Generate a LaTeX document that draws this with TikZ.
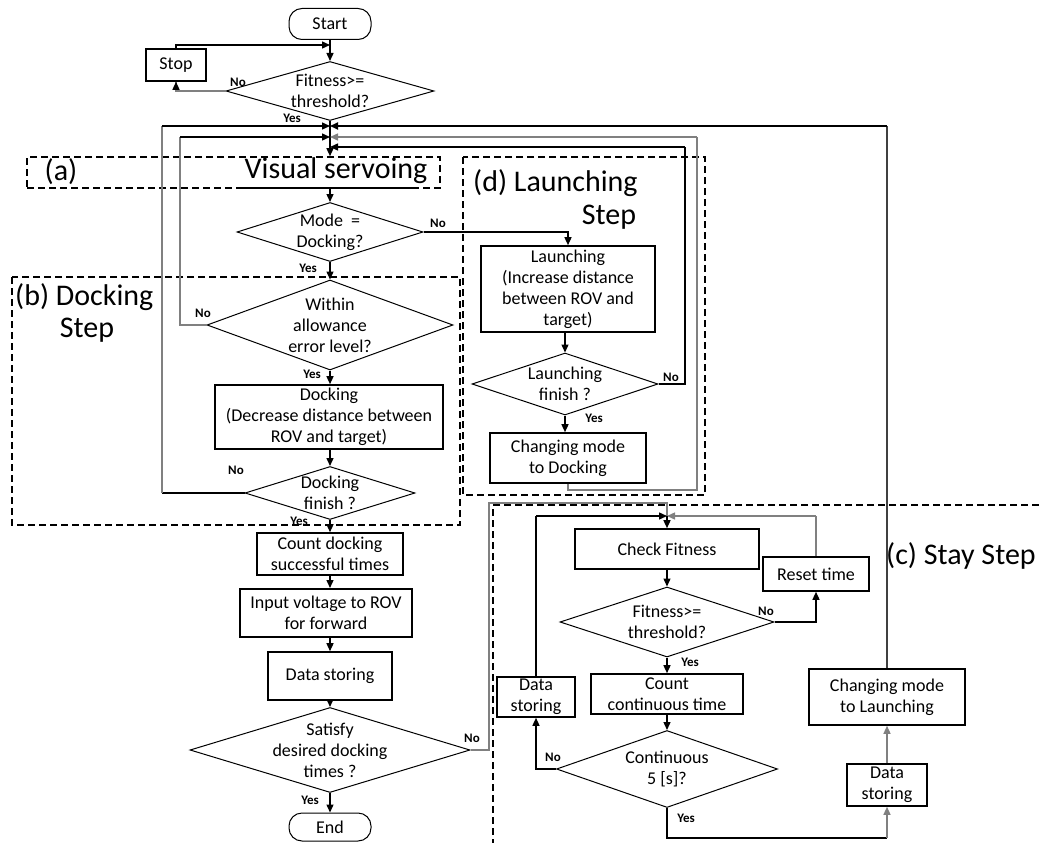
\documentclass[tikz,border=0pt]{standalone}
\usepackage{fontspec}
\setmainfont{Carlito}
\usetikzlibrary{shapes.geometric,arrows.meta}

\begin{document}
\begin{tikzpicture}[x=1pt,y=-1pt,
  txt/.style={font=\fontsize{18}{21}\selectfont},
  proc/.style={draw,line width=1.6pt,align=center,inner sep=0pt,txt},
  term/.style={draw,line width=1pt,rounded corners=13pt,inner sep=0pt,txt},
  dec/.style={draw,diamond,line width=1pt,inner sep=0pt},
  dtxt/.style={txt,align=center,inner sep=0pt},
  lab/.style={font=\fontsize{13}{13}\bfseries\selectfont,inner sep=0pt},
  big/.style={font=\fontsize{30}{33}\selectfont,inner sep=0pt},
  region/.style={draw,line width=1.6pt,dash pattern=on 7pt off 4pt},
  line/.style={line width=1.4pt},
  flow/.style={line width=1.4pt,-{Triangle[length=8pt,width=7pt]}},
  gry/.style={draw=black!50},
]
\useasboundingbox (0,0) rectangle (1042,843);

% ---------- group frames ----------
\node[region,minimum width=413pt,minimum height=31pt,inner sep=0pt] (vs) at (233.5,172.5) {};
\draw[line width=1.4pt] (243,188) -- (417,188);
\node[big] (alab) at (61,172) {(a)};
\node[big] (vslab) at (336,171) {Visual servoing};
\draw[region] (12,277) rectangle (460,525);
\node[big,anchor=west] (blab) at (15,297) {(b) Docking};
\node[big] (blab2) at (87,330) {Step};
\draw[region] (463,157) rectangle (705,495);
\node[big,anchor=west] (dlab) at (473,183) {(d) Launching};
\node[big] (dlab2) at (609,217) {Step};
\draw[region] (1050,505) -- (493,505) -- (493,850);
\node[big,anchor=west] (clab) at (886,556) {(c) Stay Step};

% ---------- main column ----------
\node[term,minimum width=82pt,minimum height=31pt] (start) at (330,24) {Start};
\node[proc,minimum width=60pt,minimum height=32pt] (stop) at (176,65) {Stop};
\node[dec,minimum width=208pt,minimum height=59pt,
  label={[dtxt]center:{Fitness>=\\threshold?}}] (fit1) at (330,91) {};
\node[dec,minimum width=186pt,minimum height=59pt,
  label={[dtxt]center:{Mode \ =\\Docking?}}] (mode) at (330,232) {};
\node[dec,minimum width=246pt,minimum height=90pt,
  label={[dtxt]center:{Within\\allowance\\error level?}}] (within) at (330,325) {};
\node[proc,minimum width=228pt,minimum height=64pt] (dock) at (329,417)
  {Docking\\(Decrease distance between\\ROV and target)};
\node[dec,minimum width=170pt,minimum height=53pt,
  label={[dtxt]center:{Docking\\finish ?}}] (df) at (330,493) {};
\node[proc,minimum width=146pt,minimum height=42pt] (count) at (330,554)
  {Count docking\\successful times};
\node[proc,minimum width=172pt,minimum height=48pt,line width=2pt] (input) at (326,613)
  {Input voltage to ROV\\for forward};
\node[proc,minimum width=124pt,minimum height=48pt] (data) at (330,676) {Data storing};
\node[dec,minimum width=280pt,minimum height=85pt,
  label={[dtxt]center:{Satisfy\\desired docking\\times ?}}] (sat) at (330,750) {};
\node[term,minimum width=82pt,minimum height=28pt] (end) at (330,827) {End};

% ---------- launching step ----------
\node[proc,minimum width=174pt,minimum height=86pt] (launch) at (568,289)
  {Launching\\(Increase distance\\between ROV and\\target)};
\node[dec,minimum width=186pt,minimum height=62pt,
  label={[dtxt]center:{Launching\\finish ?}}] (lf) at (565,384) {};
\node[proc,minimum width=156pt,minimum height=50pt] (cmd) at (568,458)
  {Changing mode\\to Docking};

% ---------- stay step ----------
\node[proc,minimum width=184pt,minimum height=40pt] (checkfit) at (667,549) {Check Fitness};
\node[proc,minimum width=106pt,minimum height=34pt] (reset) at (816,574) {Reset time};
\node[dec,minimum width=214pt,minimum height=70pt,
  label={[dtxt]center:{Fitness>=\\threshold?}}] (fit2) at (667,622) {};
\node[proc,minimum width=152pt,minimum height=40pt] (ccount) at (667,694)
  {Count\\continuous time};
\node[proc,minimum width=78pt,minimum height=40pt] (dsl) at (536,697) {Data\\storing};
\node[dec,minimum width=221pt,minimum height=77pt,
  label={[dtxt]center:{Continuous\\5 [s]?}}] (cont) at (667,769) {};
\node[proc,minimum width=156pt,minimum height=56pt] (cml) at (887,697)
  {Changing mode\\to Launching};
\node[proc,minimum width=80pt,minimum height=42pt] (dsr) at (887,785) {Data\\storing};

% ---------- junction points ----------
\coordinate (j0) at (330,45);
\coordinate (m1) at (330,126);
\coordinate (m2) at (330,137);
\coordinate (m3) at (330,147);
\coordinate (cL1) at (162,126);
\coordinate (cL2) at (180,137);
\coordinate (cR1) at (887,126);
\coordinate (cR2) at (697,137);
\coordinate (cR3) at (685,147);
\coordinate (cS) at (489,503);
\coordinate (m4) at (667,516);
\coordinate (cC1) at (536,516);
\coordinate (cC2) at (816,516);
\coordinate (cY) at (887,838);

% ---------- connectors: main column ----------
\draw[flow] (start.south) -- (fit1.north);
\draw[line,gry] (fit1.west) -| (stop.south);
\draw[flow] (fit1.west -| stop.south) ++(0,-4) -- (stop.south);
\draw[flow] (stop.north) |- (j0);
\draw[flow] (fit1.south) -- (fit1.south |- vs.north);
\draw[flow] (vs.south -| mode.north) -- (mode.north);
\draw[flow] (mode.south) -- (within.north);
\draw[flow] (within.south) -- (within.south |- dock.north);
\draw[flow] (dock.south -| df.north) -- (df.north);
\draw[flow] (df.south) -- (count.north);
\draw[flow] (count.south) -- (count.south |- input.north);
\draw[flow] (input.south -| data.north) -- (data.north);
\draw[flow] (data.south) -- (sat.north);
\draw[flow] (sat.south) -- (end.north);

% returns to visual servoing
\draw[line] (df.west) -- (df.west -| cL1);
\draw[line,gry] (df.west -| cL1) -- (cL1);
\draw[flow] (cL1) -- (m1);
\draw[line,gry] (within.west) -| (cL2);
\draw[flow] (cL2) -- (m2);
\draw[line,draw=black!75,line width=2.2pt] (cml.north) -- (cR1);
\draw[flow,line width=1.8pt] (cR1) -- (m1);
\draw[line,gry] (cmd.south) -- ++(0,6) -| (cR2);
\draw[flow,gry] (cR2) -- (m2);
\draw[line] (lf.east) -| (cR3);
\draw[flow] (cR3) -- (m3);

% launching step
\draw[flow] (mode.east) -| (launch.north);
\draw[flow] (launch.south -| lf.north) -- (lf.north);
\draw[flow] (lf.south) -- (lf.south |- cmd.north);

% stay step
\draw[line,gry] (sat.east) -| (cS) -| (m4);
\draw[line] (dsl.north) -- (cC1);
\draw[flow] (cC1) -- (m4);
\draw[line,gry] (reset.north) -- (cC2);
\draw[flow,gry] (cC2) -- (m4);
\draw[flow] (m4) -- (checkfit.north);
\draw[flow] (checkfit.south) -- (fit2.north);
\draw[flow] (fit2.east) -| (reset.south);
\draw[flow] (fit2.south) -- (ccount.north);
\draw[flow] (ccount.south) -- (cont.north);
\draw[flow] (cont.west) -| (dsl.south);
\draw[line] (cont.south) |- (cY);
\draw[flow,gry] (cY) -- (dsr.south);
\draw[flow,gry] (dsr.north) -- (cml.south);

% ---------- branch labels ----------
\node[lab] (n1) at (238,82) {No};
\node[lab] (y1) at (292,118) {Yes};
\node[lab] (n2) at (438,223) {No};
\node[lab] (y2) at (308,268) {Yes};
\node[lab] (n3) at (203,313) {No};
\node[lab] (y3) at (312,374) {Yes};
\node[lab] (n4) at (236,470) {No};
\node[lab] (y4) at (299,521) {Yes};
\node[lab] (n5) at (472,738) {No};
\node[lab] (y5) at (310,800) {Yes};
\node[lab] (n6) at (671,377) {No};
\node[lab] (y6) at (594,418) {Yes};
\node[lab] (n7) at (766,611) {No};
\node[lab] (y7) at (690,662) {Yes};
\node[lab] (n8) at (553,757) {No};
\node[lab] (y8) at (686,818) {Yes};
\end{tikzpicture}
\end{document}
